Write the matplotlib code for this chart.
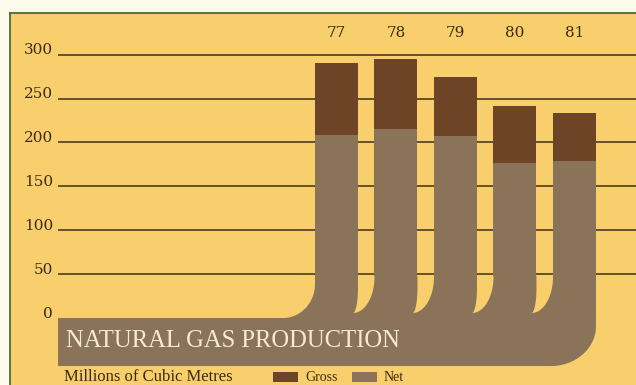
import numpy as np
import matplotlib
matplotlib.use('Agg')
import matplotlib.pyplot as plt
from matplotlib.patches import Polygon, Rectangle

# data
years = ['77', '78', '79', '80', '81']
gross = [290, 295, 274, 242, 234]
net = [209, 215, 207, 177, 179]
grid_vals = [50, 100, 150, 200, 250, 300]

# colours
PANEL = '#f9cf6d'
OUTER = '#fcfaea'
GROSS_C = '#6d4526'
NET_C = '#8b7359'
GRID_C = '#5a4823'
FRAME_C = '#4f6a35'
TITLE_C = '#f6ead3'
TEXT_C = '#3a2a12'

# pixel scale of the axes (px per data unit)
PX_X = 59.5
PX_Y = 0.878

fig = plt.figure(figsize=(6.36, 3.85), dpi=100)
fig.patch.set_facecolor(OUTER)
ax = fig.add_axes([10 / 636, 0, 626 / 636, 372 / 385])
ax.set_xlim(-5.487, 5.034)
ax.set_ylim(-76.3, 347.4)
ax.set_facecolor(PANEL)
for s in ['right', 'bottom']:
    ax.spines[s].set_visible(False)
for s in ['left', 'top']:
    ax.spines[s].set_color(FRAME_C)
    ax.spines[s].set_linewidth(1.3)
ax.set_xticks([])
ax.set_yticks([])

x = np.arange(len(years))
w = 43 / PX_X
grid_left = -4.68

# gridlines + value labels
ax.hlines(grid_vals, grid_left, 5.1, color=GRID_C, lw=1.3, zorder=1)
for v in grid_vals + [0]:
    ax.text(grid_left - 5 / PX_X, v + 0.5, str(v), ha='right', va='baseline',
            fontsize=11, family='DejaVu Serif', color=TEXT_C)

# year labels
for xi, yr in zip(x, years):
    ax.text(xi, 320, yr, ha='center', va='baseline', fontsize=11,
            family='DejaVu Serif', color=TEXT_C)

# bars
net = np.array(net)
gross = np.array(gross)
ax.bar(x, net, width=w, color=NET_C, zorder=2.5)
ax.bar(x, gross - net, bottom=net, width=w, color=GROSS_C, zorder=2.5)

# band along the bottom with rounded right corner
x_left_band = grid_left
x_right = x[-1] + w / 2
y_band_bot = -54.7
rx = 45 / PX_X
ry = 40 / PX_Y
th = np.linspace(0, np.pi / 2, 40)
corner = [(x_right - rx + rx * np.cos(t), y_band_bot + ry - ry * np.sin(t)) for t in th]
band_pts = [(x_left_band, 0), (x_right, 0)] + corner + [(x_left_band, y_band_bot)]
ax.add_patch(Polygon(band_pts, closed=True, color=NET_C, lw=0, zorder=2.5))

# fillet into the band on the left of the first bar
x0 = x[0] - w / 2
frx = 32 / PX_X
fry = 34 / PX_Y
arc = [(x0 - frx + frx * np.sin(t), fry - fry * np.cos(t)) for t in th]
ax.add_patch(Polygon([(x0, fry), (x0, 0)] + arc, closed=True, color=NET_C,
                     lw=0, zorder=2.5))

# gaps between bars bend left into the band
y_top_gap = 48
ya = 41 / PX_Y
yb = 30 / PX_Y
yt = 5 / PX_Y
for i in range(len(years) - 1):
    xr = x[i] + w / 2
    xl = x[i + 1] - w / 2
    xt = xr - 5 / PX_X
    ax.add_patch(Rectangle((xr, 0), xl - xr, y_top_gap, color=NET_C, lw=0, zorder=3))
    left_arc = [(xt + (xr - xt) * np.cos(t), yb - (yb - yt) * np.sin(t)) for t in th]
    right_arc = [(xt + (xl - xt) * np.cos(t), ya - (ya - yt) * np.sin(t)) for t in th[::-1]]
    pts = [(xr, y_top_gap)] + left_arc + right_arc + [(xl, y_top_gap)]
    ax.add_patch(Polygon(pts, closed=True, color=PANEL, lw=0, zorder=4))

# title in band
ax.text(-4.546, -26.2, 'NATURAL GAS PRODUCTION', ha='left', va='center',
        fontsize=17.7, family='Liberation Serif', color=TITLE_C, zorder=5)

# legend / units line at the bottom
y_txt = -(381 - 318) / PX_Y
ax.text((64 - 336.5) / PX_X, y_txt, 'Millions of Cubic Metres', ha='left',
        va='baseline', fontsize=12, family='Liberation Serif', color=TEXT_C)
sw_y = -(372 - 318) / PX_Y
sw_h = -10 / PX_Y
for px, col, lab in [(273, GROSS_C, 'Gross'), (352, NET_C, 'Net')]:
    ax.add_patch(Rectangle(((px - 336.5) / PX_X, sw_y), 25 / PX_X, sw_h,
                           color=col, lw=0))
    ax.text((px + 32 - 336.5) / PX_X, y_txt, lab, ha='left', va='baseline',
            fontsize=10, family='Liberation Serif', color=TEXT_C)

fig.savefig('out.png', dpi=100, facecolor=fig.get_facecolor())
